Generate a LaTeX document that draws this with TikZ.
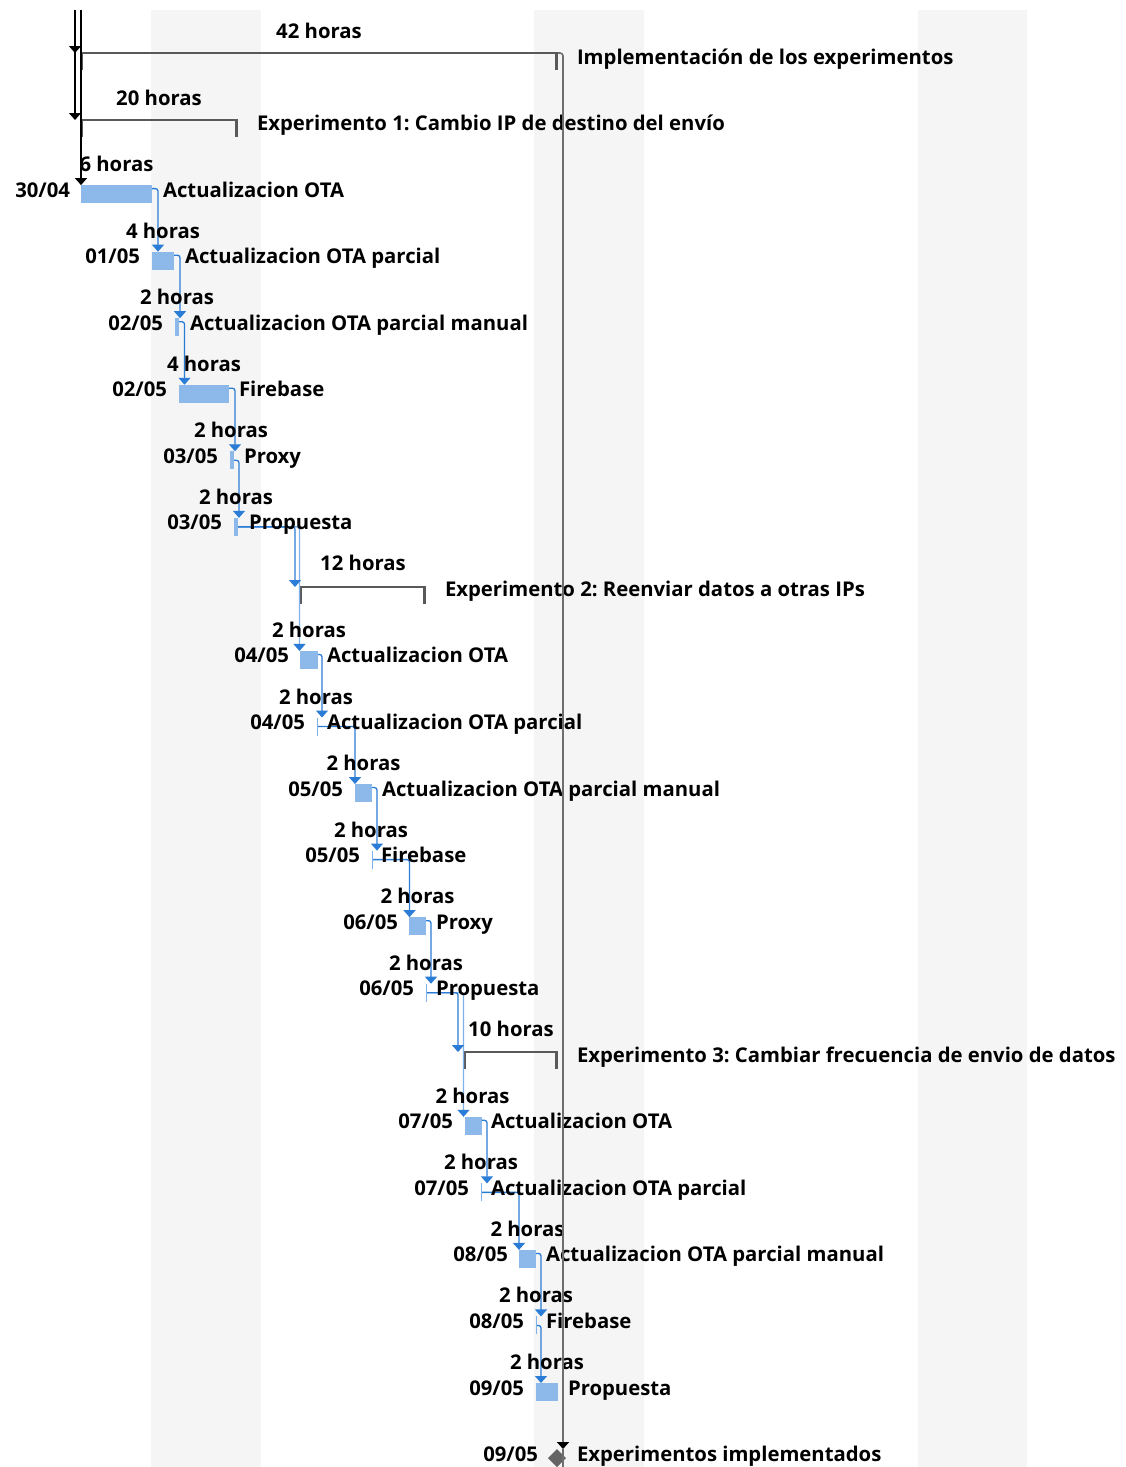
\documentclass[tikz,border=0pt]{standalone}
\usepackage{fontspec}
\setmainfont{Open Sans}
\usetikzlibrary{arrows.meta,shapes.geometric}
\definecolor{stripe}{RGB}{245,245,245}
\definecolor{barblue}{RGB}{141,185,234}
\definecolor{linkblue}{RGB}{43,124,214}
\definecolor{lightlink}{RGB}{128,178,234}
\definecolor{summgray}{RGB}{89,89,89}
\definecolor{msgray}{RGB}{100,100,100}
\definecolor{vgray}{RGB}{110,110,110}
\frenchspacing
\begin{document}
\begin{tikzpicture}[x=1pt,y=-1pt,
  every node/.style={inner sep=0pt,outer sep=0pt},
  ganttfont/.style={font=\fontsize{20.3}{24}\selectfont\bfseries},
  tasklbl/.style={ganttfont,anchor=base west},
  datelbl/.style={ganttfont,anchor=base east},
  durlbl/.style={ganttfont,anchor=base},
  taskbar/.style={fill=barblue,minimum height=18pt,anchor=north west},
  narrowbar/.style={fill=barblue,minimum height=18pt,minimum width=4pt,anchor=north west},
  hairbar/.style={fill=lightlink,minimum height=18pt,minimum width=1.2pt,anchor=north west},
  sumspan/.style={minimum height=17pt,anchor=north west},
  mstone/.style={diamond,fill=msgray,minimum width=18pt,minimum height=18pt},
  brkline/.style={draw=summgray,line width=2pt},
  brktick/.style={draw=summgray,line width=3pt},
  headtip/.style={-{Triangle[width=12pt,length=7pt,color=#1,fill=#1]}},
  fslink/.style={draw=linkblue,line width=1.3pt,rounded corners=2.5pt,headtip=linkblue},
  softlink/.style={draw=lightlink,line width=1.3pt,rounded corners=2.5pt,headtip=linkblue},
  blklink/.style={draw=black,line width=1.3pt,headtip=black},
  sumlink/.style={draw=vgray,line width=1.6pt,rounded corners=3pt,headtip=black},
  sumplain/.style={draw=vgray,line width=1.6pt}
]
\useasboundingbox (0,0) rectangle (1126,1467);
\fill[white] (0,0) rectangle (1126,1467);

% timescale shading
\fill[stripe] (151,10) rectangle (261,1467);
\fill[stripe] (534,10) rectangle (644,1467);
\fill[stripe] (918,10) rectangle (1027,1467);

% summary spans
\node[sumspan,minimum width=478pt] (s0) at (80,53) {};
\node[sumspan,minimum width=158pt] (s1) at (80,120) {};
\node[sumspan,minimum width=127pt] (s8) at (299,587) {};
\node[sumspan,minimum width=95pt] (s15) at (463,1052) {};
\foreach \s in {s0,s1,s8,s15}{
  \draw[brkline] (\s.north west) -- (\s.north east);
  \draw[brktick] ([xshift=1pt]\s.north west) -- ([xshift=1pt]\s.south west);
  \draw[brktick] ([xshift=-1.5pt]\s.north east) -- ([xshift=-1.5pt]\s.south east);
}

% task bars
\node[taskbar,minimum width=71pt] (b2) at (81,185.1) {};
\node[taskbar,minimum width=22pt] (b3) at (152,251.65) {};
\node[narrowbar] (b4) at (175,318.2) {};
\node[taskbar,minimum width=50pt] (b5) at (179,384.75) {};
\node[narrowbar] (b6) at (230,451.3) {};
\node[narrowbar] (b7) at (234,517.85) {};
\node[taskbar,minimum width=18pt] (b9) at (300,650.95) {};
\node[hairbar] (b10) at (317,717.5) {};
\node[taskbar,minimum width=17pt] (b11) at (355,784.05) {};
\node[hairbar] (b12) at (372,850.6) {};
\node[taskbar,minimum width=17pt] (b13) at (409,917.15) {};
\node[hairbar] (b14) at (426,983.7) {};
\node[taskbar,minimum width=17pt] (b16) at (464.5,1116.8) {};
\node[hairbar] (b17) at (481,1183.35) {};
\node[taskbar,minimum width=17pt] (b18) at (519,1249.9) {};
\node[hairbar] (b19) at (536,1316.45) {};
\node[taskbar,minimum width=22pt] (b20) at (536,1383) {};
\node[mstone] (m21) at (557,1458) {};

% columns where the link arrows come down
\coordinate (a3) at (158,0);
\coordinate (a4) at (180,0);
\coordinate (a5) at (184.5,0);
\coordinate (a6) at (235,0);
\coordinate (a7) at (239,0);
\coordinate (a8) at (295,0);
\coordinate (a9) at (299.5,0);
\coordinate (a10) at (322,0);
\coordinate (a11) at (355,0);
\coordinate (a12) at (377,0);
\coordinate (a13) at (409.5,0);
\coordinate (a14) at (431,0);
\coordinate (a15) at (458,0);
\coordinate (a16) at (463.5,0);
\coordinate (a17) at (487,0);
\coordinate (a18) at (519,0);
\coordinate (a19) at (541,0);
\coordinate (a20) at (541,0);
\coordinate (a21) at (563,0);
\coordinate (t0) at (75,10);
\coordinate (t1) at (81,10);
\coordinate (bot) at (0,1467);

% incoming links at the top
\draw[blklink] (t0) -- (t0 |- s1.north);
\draw[blklink] (t0) -- (t0 |- s0.north);
\draw[blklink] (t1) -- (t1 |- b2.north);

% finish-to-start links
\draw[fslink] ([yshift=-3.5pt]b2.north east) -| (a3 |- b3.north);
\draw[fslink] ([yshift=-3.5pt]b3.north east) -| (a4 |- b4.north);
\draw[fslink] ([yshift=-3.5pt]b4.north east) -| (a5 |- b5.north);
\draw[fslink] ([yshift=-3.5pt]b5.north east) -| (a6 |- b6.north);
\draw[fslink] (b6.east) -| (a7 |- b7.north);
\draw[softlink] (b7.east) -| (a9 |- b9.north);
\draw[fslink] (b7.east) -| (a8 |- s8.north);
\draw[fslink] ([yshift=-3.5pt]b9.north east) -| (a10 |- b10.north);
\draw[fslink] (b10.east) -| (a11 |- b11.north);
\draw[fslink] ([yshift=-3.5pt]b11.north east) -| (a12 |- b12.north);
\draw[fslink] (b12.east) -| (a13 |- b13.north);
\draw[fslink] ([yshift=-3.5pt]b13.north east) -| (a14 |- b14.north);
\draw[softlink] (b14.east) -| (a16 |- b16.north);
\draw[fslink] (b14.east) -| (a15 |- s15.north);
\draw[fslink] ([yshift=-3.5pt]b16.north east) -| (a17 |- b17.north);
\draw[fslink] (b17.east) -| (a18 |- b18.north);
\draw[fslink] ([yshift=-3.5pt]b18.north east) -| (a19 |- b19.north);
\draw[fslink] (b19.east) -| (a20 |- b20.north);

% durations
\node[durlbl] (h0) at (319,38.5) {42 horas};
\node[durlbl] (h1) at (159,105) {20 horas};
\node[durlbl] (h2) at (116.5,171.6) {6 horas};
\node[durlbl] (h3) at (163,238.15) {4 horas};
\node[durlbl] (h4) at (177,304.7) {2 horas};
\node[durlbl] (h5) at (204,371.25) {4 horas};
\node[durlbl] (h6) at (231,437.8) {2 horas};
\node[durlbl] (h7) at (236,504.35) {2 horas};
\node[durlbl] (h8) at (363,570.9) {12 horas};
\node[durlbl] (h9) at (309,637.45) {2 horas};
\node[durlbl] (h10) at (316,704) {2 horas};
\node[durlbl] (h11) at (363.5,770.55) {2 horas};
\node[durlbl] (h12) at (371,837.1) {2 horas};
\node[durlbl] (h13) at (417.5,903.65) {2 horas};
\node[durlbl] (h14) at (426,970.2) {2 horas};
\node[durlbl] (h15) at (511,1036.75) {10 horas};
\node[durlbl] (h16) at (472.5,1103.3) {2 horas};
\node[durlbl] (h17) at (481,1169.85) {2 horas};
\node[durlbl] (h18) at (527.5,1236.4) {2 horas};
\node[durlbl] (h19) at (536,1302.95) {2 horas};
\node[durlbl] (h20) at (547,1369.5) {2 horas};

% start dates
\node[datelbl] (d2) at (70,197.1) {30/04};
\node[datelbl] (d3) at (140,263.65) {01/05};
\node[datelbl] (d4) at (163,330.2) {02/05};
\node[datelbl] (d5) at (167,396.75) {02/05};
\node[datelbl] (d6) at (218,463.3) {03/05};
\node[datelbl] (d7) at (222,529.85) {03/05};
\node[datelbl] (d9) at (289,662.95) {04/05};
\node[datelbl] (d10) at (305,729.5) {04/05};
\node[datelbl] (d11) at (343,796.05) {05/05};
\node[datelbl] (d12) at (360,862.6) {05/05};
\node[datelbl] (d13) at (398,929.15) {06/05};
\node[datelbl] (d14) at (414,995.7) {06/05};
\node[datelbl] (d16) at (453,1128.8) {07/05};
\node[datelbl] (d17) at (469,1195.35) {07/05};
\node[datelbl] (d18) at (508,1261.9) {08/05};
\node[datelbl] (d19) at (524,1328.45) {08/05};
\node[datelbl] (d20) at (524,1395) {09/05};
\node[datelbl] (d21) at (538,1461.55) {09/05};

% task names
\node[tasklbl] (n0) at (577,64) {Implementación de los experimentos};
\node[tasklbl] (n1) at (257,130.55) {Experimento 1: Cambio IP de destino del envío};
\node[tasklbl] (n2) at (163,197.1) {Actualizacion OTA};
\node[tasklbl] (n3) at (185,263.65) {Actualizacion OTA parcial};
\node[tasklbl] (n4) at (190,330.2) {Actualizacion OTA parcial manual};
\node[tasklbl] (n5) at (239,396.75) {Firebase};
\node[tasklbl] (n6) at (244,463.3) {Proxy};
\node[tasklbl] (n7) at (249,529.85) {Propuesta};
\node[tasklbl] (n8) at (445,596.4) {Experimento 2: Reenviar datos a otras IPs};
\node[tasklbl] (n9) at (327,662.95) {Actualizacion OTA};
\node[tasklbl] (n10) at (327,729.5) {Actualizacion OTA parcial};
\node[tasklbl] (n11) at (382,796.05) {Actualizacion OTA parcial manual};
\node[tasklbl] (n12) at (381,862.6) {Firebase};
\node[tasklbl] (n13) at (436,929.15) {Proxy};
\node[tasklbl] (n14) at (436,995.7) {Propuesta};
\node[tasklbl] (n15) at (577,1062.25) {Experimento 3: Cambiar frecuencia de envio de datos};
\node[tasklbl] (n16) at (491,1128.8) {Actualizacion OTA};
\node[tasklbl] (n17) at (491,1195.35) {Actualizacion OTA parcial};
\node[tasklbl] (n18) at (546,1261.9) {Actualizacion OTA parcial manual};
\node[tasklbl] (n19) at (546,1328.45) {Firebase};
\node[tasklbl] (n20) at (568,1395) {Propuesta};
\node[tasklbl] (n21) at (577,1461.55) {Experimentos implementados};

% link from the top summary to the final milestone
\draw[sumlink] (s0.north east) -| (a21 |- m21.north);
\draw[sumplain] (a21 |- m21.north) -- (a21 |- bot);
\end{tikzpicture}
\end{document}
